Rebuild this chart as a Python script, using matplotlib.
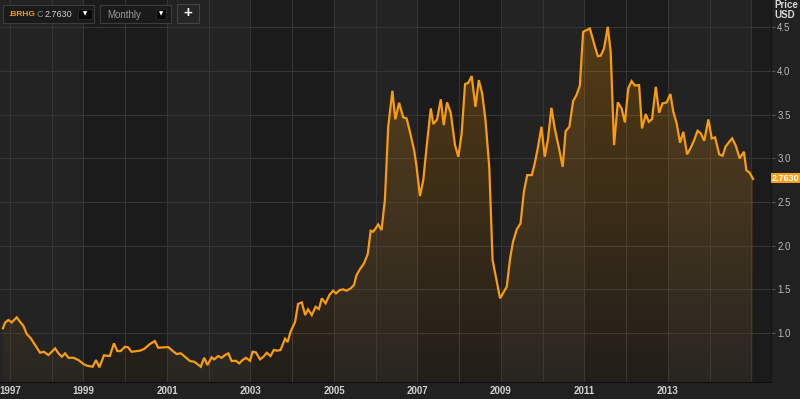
import numpy as np
import matplotlib
matplotlib.use("Agg")
import matplotlib.pyplot as plt
from matplotlib.patches import Rectangle

plt.rcParams['font.family'] = ['Liberation Sans', 'DejaVu Sans']

# monthly closes (decimal year, USD)
years = [1997.07, 1997.12, 1997.20, 1997.28, 1997.40, 1997.48, 1997.56, 1997.64, 1997.74, 1997.84,
         1997.96, 1998.05, 1998.16, 1998.32, 1998.40, 1998.48, 1998.56, 1998.64, 1998.76, 1998.88,
         1999.00, 1999.09, 1999.22, 1999.30, 1999.38, 1999.49, 1999.63, 1999.73, 1999.81, 1999.89,
         1999.99, 2000.07, 2000.15, 2000.35, 2000.45, 2000.59, 2000.71, 2000.79, 2000.91, 2001.03,
         2001.11, 2001.23, 2001.33, 2001.43, 2001.55, 2001.65, 2001.73, 2001.81, 2001.89, 2001.97,
         2002.07, 2002.13, 2002.23, 2002.31, 2002.39, 2002.47, 2002.55, 2002.65, 2002.73, 2002.81,
         2002.89, 2002.99, 2003.05, 2003.13, 2003.23, 2003.31, 2003.39, 2003.48, 2003.56, 2003.64,
         2003.72, 2003.83, 2003.89, 2003.96, 2004.07, 2004.14, 2004.23, 2004.31, 2004.38, 2004.47,
         2004.56, 2004.64, 2004.71, 2004.80, 2004.89, 2004.98, 2005.05, 2005.14, 2005.22, 2005.30,
         2005.40, 2005.48, 2005.54, 2005.62, 2005.72, 2005.81, 2005.88, 2005.94, 2006.00, 2006.06,
         2006.14, 2006.22, 2006.30, 2006.40, 2006.47, 2006.56, 2006.66, 2006.74, 2006.82, 2006.92,
         2006.98, 2007.06, 2007.14, 2007.22, 2007.32, 2007.38, 2007.47, 2007.56, 2007.63, 2007.71,
         2007.80, 2007.90, 2007.98, 2008.06, 2008.14, 2008.22, 2008.30, 2008.39, 2008.47, 2008.55,
         2008.63, 2008.72, 2008.80, 2008.98, 2009.14, 2009.22, 2009.29, 2009.38, 2009.47, 2009.55,
         2009.63, 2009.74, 2009.81, 2009.89, 2009.97, 2010.05, 2010.13, 2010.21, 2010.29, 2010.40,
         2010.48, 2010.55, 2010.64, 2010.73, 2010.81, 2010.89, 2010.97, 2011.05, 2011.13, 2011.23,
         2011.32, 2011.39, 2011.47, 2011.56, 2011.63, 2011.71, 2011.80, 2011.89, 2011.97, 2012.05,
         2012.13, 2012.21, 2012.31, 2012.38, 2012.47, 2012.54, 2012.62, 2012.71, 2012.79, 2012.87,
         2012.97, 2013.06, 2013.13, 2013.21, 2013.29, 2013.37, 2013.46, 2013.54, 2013.63, 2013.71,
         2013.79, 2013.87, 2013.97, 2014.05, 2014.13, 2014.23, 2014.31, 2014.38, 2014.47, 2014.54,
         2014.63, 2014.72, 2014.82, 2014.88, 2014.96, 2015.04]
prices = [1.054, 1.118, 1.149, 1.122, 1.180, 1.129, 1.083, 0.989, 0.939, 0.863,
          0.775, 0.786, 0.748, 0.825, 0.768, 0.729, 0.768, 0.717, 0.717, 0.691,
          0.645, 0.626, 0.615, 0.691, 0.608, 0.745, 0.737, 0.882, 0.794, 0.794,
          0.843, 0.836, 0.786, 0.798, 0.817, 0.874, 0.908, 0.832, 0.836, 0.840,
          0.806, 0.760, 0.768, 0.729, 0.680, 0.672, 0.645, 0.615, 0.717, 0.634,
          0.722, 0.699, 0.737, 0.717, 0.748, 0.768, 0.680, 0.683, 0.653, 0.691,
          0.717, 0.683, 0.786, 0.779, 0.699, 0.729, 0.775, 0.737, 0.806, 0.798,
          0.806, 0.935, 0.897, 1.015, 1.129, 1.332, 1.351, 1.206, 1.271, 1.206,
          1.301, 1.275, 1.397, 1.340, 1.435, 1.484, 1.454, 1.492, 1.500, 1.484,
          1.511, 1.549, 1.663, 1.729, 1.797, 1.904, 2.170, 2.159, 2.198, 2.243,
          2.178, 2.521, 3.360, 3.771, 3.444, 3.634, 3.467, 3.456, 3.302, 3.093,
          2.902, 2.567, 2.750, 3.131, 3.570, 3.391, 3.444, 3.673, 3.379, 3.639,
          3.513, 3.150, 3.017, 3.284, 3.848, 3.863, 3.940, 3.588, 3.894, 3.742,
          3.436, 2.902, 1.835, 1.397, 1.530, 1.854, 2.044, 2.186, 2.255, 2.616,
          2.807, 2.807, 2.941, 3.131, 3.360, 3.017, 3.227, 3.577, 3.341, 3.093,
          2.902, 3.310, 3.360, 3.654, 3.722, 3.829, 4.446, 4.466, 4.485, 4.314,
          4.168, 4.172, 4.256, 4.503, 4.217, 3.150, 3.639, 3.570, 3.410, 3.799,
          3.882, 3.831, 3.837, 3.341, 3.505, 3.417, 3.448, 3.817, 3.520, 3.627,
          3.639, 3.734, 3.531, 3.399, 3.177, 3.302, 3.044, 3.113, 3.208, 3.314,
          3.284, 3.200, 3.444, 3.227, 3.238, 3.044, 3.028, 3.131, 3.188, 3.227,
          3.139, 2.998, 3.074, 2.864, 2.833, 2.763]

symbol = ".BRHG"
last_price = "2.7630"
interval = "Monthly"
year_labels = ["1997", "1999", "2001", "2003", "2005", "2007", "2009", "2011", "2013"]
year_label_pos = [1997.24, 1999, 2001, 2003, 2005, 2007, 2009, 2011, 2013]
grid_years = [1997.24, 1998.25] + list(range(1999, 2016))
price_ticks = [1.0, 1.5, 2.0, 2.5, 3.0, 3.5, 4.0, 4.5]

X0, X1 = 1997.0, 2015.47
Y0, Y1 = 0.44, 4.81
ORANGE = '#f99c10'

fig = plt.figure(figsize=(8, 3.99), dpi=100)
fig.patch.set_facecolor('#212121')
ax = fig.add_axes([0, 17 / 399, 771 / 800, 382 / 399])
ax.set_facecolor('#1b1b1b')

# alternating two-year background bands
light_bands = [(X0, 1999), (2001, 2003), (2005, 2007), (2009, 2011), (2013, 2015)]
for a, b in light_bands:
    ax.axvspan(a, b, color='#232323', lw=0, zorder=0)

for g in grid_years:
    ax.axvline(g, color='#353535', lw=0.8, zorder=0.5)
for p in price_ticks:
    ax.axhline(p, color='#353535', lw=0.8, zorder=0.5)

# vertical gradient under the line
alpha = np.linspace(0.03, 0.27, 256)
rgba = np.zeros((256, 1, 4))
rgba[..., 0] = 1.0
rgba[..., 1] = 0.6
rgba[..., 3] = alpha[:, None]
poly = ax.fill_between(years, prices, Y0, color='none', lw=0)
im = ax.imshow(rgba, extent=[X0, X1, Y0, Y1], origin='lower', aspect='auto', zorder=1)
im.set_clip_path(poly.get_paths()[0], ax.transData)

ax.plot(years, prices, color=ORANGE, lw=1.6, zorder=3, solid_joinstyle='miter')

ax.set_xlim(X0, X1)
ax.set_ylim(Y0, Y1)

ax.yaxis.tick_right()
ax.set_yticks(price_ticks, [f"{p:.1f}" for p in price_ticks])
ax.tick_params(axis='y', length=3, color='#555555', labelcolor='#b8b8b8', labelsize=7, pad=1.5)
ax.set_xticks(year_label_pos, year_labels, fontweight='bold')
ax.tick_params(axis='x', length=0, labelcolor='#d0d0d0', labelsize=7, pad=3)

for s in ['top', 'left']:
    ax.spines[s].set_visible(False)
ax.spines['bottom'].set_color('#0e0e0e')
ax.spines['right'].set_color('#141414')

# overlay in pixel coords for the toolbar and price badge
ov = fig.add_axes([0, 0, 1, 1])
ov.set_xlim(0, 800)
ov.set_ylim(399, 0)
ov.axis('off')
ov.patch.set_alpha(0)

ov.add_patch(Rectangle((3, 5), 91, 18, fc='#1a1a1a', ec='#3c3c3c', lw=0.8))
ov.text(8, 14.5, symbol, color=ORANGE, fontsize=6, fontweight='bold', va='center')
ov.text(36.5, 14.5, "C", color='#888888', fontsize=6.5, va='center')
ov.text(44.5, 14.5, last_price, color='#d0d0d0', fontsize=6.5, va='center')
ov.add_patch(Rectangle((78, 9), 14, 10, fc='#080808', ec='#303030', lw=0.5))
ov.text(85, 14.2, "▼", color='white', fontsize=4, ha='center', va='center', family='DejaVu Sans')

ov.add_patch(Rectangle((100, 5), 71, 18, fc='#1a1a1a', ec='#3c3c3c', lw=0.8))
ov.text(107.5, 14.5, interval, color='#9a9a9a', fontsize=7, va='center')
ov.add_patch(Rectangle((156, 9), 10, 10, fc='#080808', ec='#303030', lw=0.5))
ov.text(161, 14.2, "▼", color='white', fontsize=4, ha='center', va='center', family='DejaVu Sans')

ov.add_patch(Rectangle((177, 4), 22, 19, fc='#262626', ec='#444444', lw=0.8))
ov.text(188, 13.5, "+", color='white', fontsize=11, fontweight='bold', ha='center', va='center')

ov.text(774, 5.5, "Price", color='#d8d8d8', fontsize=7, fontweight='bold', va='center')
ov.text(774, 15.5, "USD", color='#d8d8d8', fontsize=7, fontweight='bold', va='center')

ov.add_patch(Rectangle((771, 173), 29, 10, fc='#f5a016', ec='none'))
ov.text(785.5, 178.2, last_price, color='white', fontsize=6.5, fontweight='bold', ha='center', va='center')

fig.savefig("out.png", dpi=100, facecolor=fig.get_facecolor())
